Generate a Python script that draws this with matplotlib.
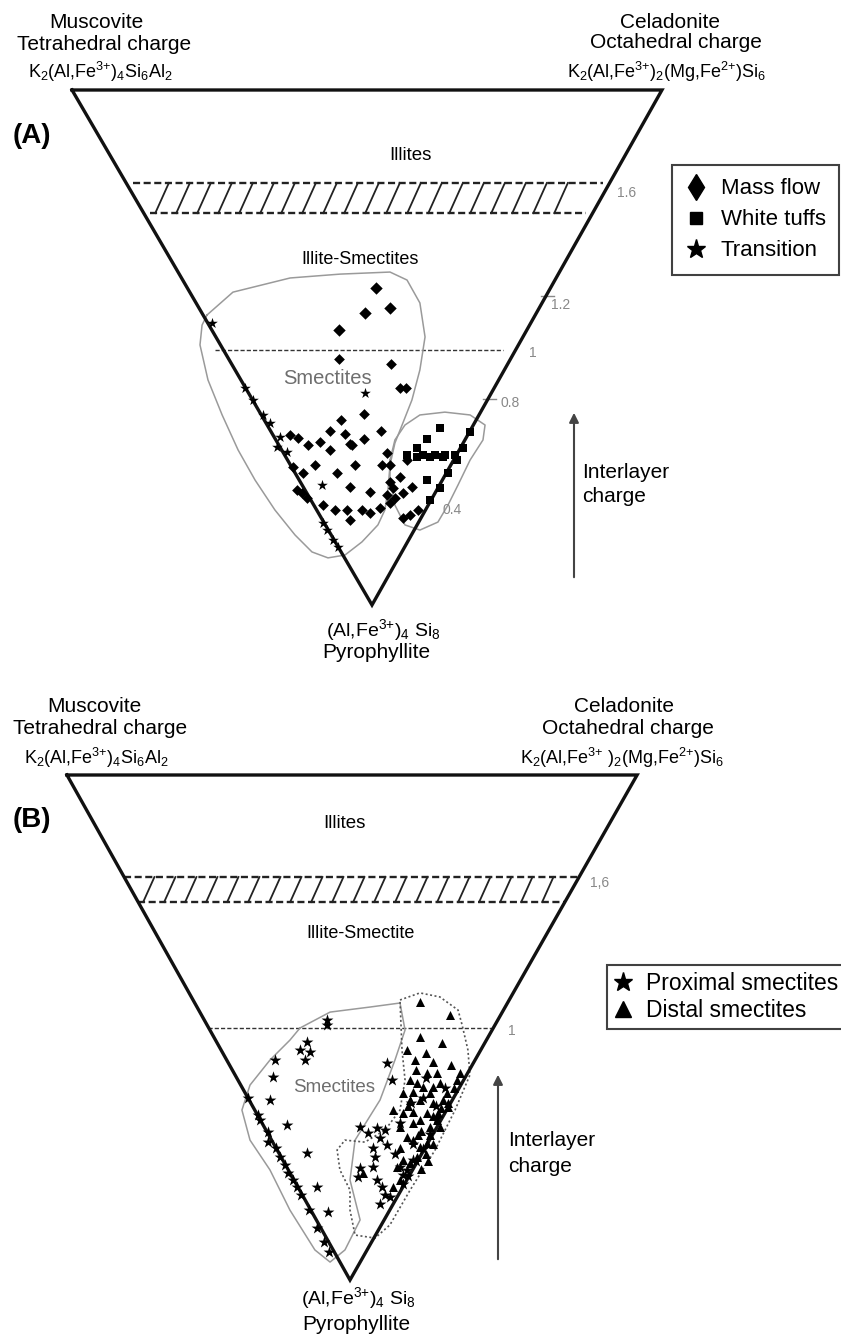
import numpy as np
import matplotlib.pyplot as plt
from matplotlib.lines import Line2D

plt.rcParams['font.family'] = ['Liberation Sans', 'DejaVu Sans']
plt.rcParams['mathtext.fontset'] = 'custom'
plt.rcParams['mathtext.rm'] = 'Liberation Sans'
plt.rcParams['mathtext.it'] = 'Liberation Sans:italic'
plt.rcParams['mathtext.bf'] = 'Liberation Sans:bold'
plt.rcParams['mathtext.default'] = 'regular'

W, H = 841, 1335

# ---- panel A data: x = horizontal offset from the pyrophyllite apex, c = interlayer charge
a_top_left, a_top_right = -1.165, 1.126

a_massflow_x = [0.016, 0.070, -0.027, -0.128]
a_massflow_c = [1.231, 1.153, 1.134, 1.068]

a_dots_x = [-0.128, 0.074, 0.109, 0.132, -0.031, -0.120, -0.163, -0.105, 0.035, -0.031,
            -0.085, -0.202, -0.249, -0.287, -0.318, -0.163, 0.058, -0.078, -0.307, -0.221,
            -0.268, -0.136, -0.066, 0.039, 0.070, 0.136, -0.085, -0.008, 0.070, 0.109,
            0.082, 0.058, 0.089, 0.120, 0.155, -0.291, -0.272, -0.252, -0.190, -0.144,
            -0.097, -0.039, -0.008, -0.085, 0.070, 0.031, 0.120, 0.148, 0.179]
a_dots_c = [0.955, 0.936, 0.843, 0.843, 0.742, 0.718, 0.676, 0.664, 0.676, 0.645,
            0.625, 0.633, 0.621, 0.648, 0.660, 0.602, 0.590, 0.621, 0.536, 0.544,
            0.513, 0.513, 0.544, 0.544, 0.544, 0.563, 0.458, 0.439, 0.478, 0.497,
            0.454, 0.427, 0.415, 0.435, 0.458, 0.447, 0.435, 0.415, 0.388, 0.369,
            0.369, 0.369, 0.357, 0.330, 0.396, 0.377, 0.338, 0.349, 0.369]

a_tuffs_x = [0.264, 0.214, 0.175, 0.136, 0.198, 0.245, 0.283, 0.322, 0.381, 0.175,
             0.225, 0.276, 0.214, 0.225, 0.264, 0.295, 0.330, 0.353]
a_tuffs_c = [0.687, 0.645, 0.610, 0.582, 0.582, 0.582, 0.582, 0.582, 0.672, 0.575,
             0.575, 0.575, 0.485, 0.408, 0.454, 0.513, 0.563, 0.610]

a_trans_x = [-0.621, -0.493, -0.462, -0.423, -0.396, -0.357, -0.369, -0.330, -0.194,
             -0.190, -0.175, -0.151, -0.132, -0.027]
a_trans_c = [1.095, 0.843, 0.796, 0.738, 0.707, 0.652, 0.614, 0.594, 0.466,
             0.318, 0.291, 0.252, 0.225, 0.823]

a_smectite_env_x = [-0.641, -0.540, -0.318, -0.124, 0.070, 0.136, 0.186, 0.206, 0.186, 0.155,
                    0.120, 0.089, 0.070, 0.062, 0.050, 0.023, -0.039, -0.105, -0.171, -0.233,
                    -0.299, -0.377, -0.454, -0.520, -0.582, -0.637, -0.668, -0.660, -0.641]
a_smectite_env_c = [1.126, 1.215, 1.270, 1.285, 1.293, 1.262, 1.173, 1.041, 0.913, 0.796,
                    0.707, 0.629, 0.544, 0.447, 0.369, 0.311, 0.245, 0.194, 0.183, 0.206,
                    0.272, 0.369, 0.485, 0.602, 0.738, 0.874, 1.010, 1.087, 1.126]

a_tuffs_env_x = [0.070, 0.089, 0.128, 0.186, 0.283, 0.381, 0.439, 0.431, 0.381, 0.334,
                 0.295, 0.256, 0.186, 0.128, 0.089, 0.070, 0.070]
a_tuffs_env_c = [0.563, 0.641, 0.699, 0.738, 0.749, 0.738, 0.699, 0.641, 0.563, 0.466,
                 0.388, 0.322, 0.291, 0.311, 0.388, 0.485, 0.563]

# ---- panel B data
b_top_left, b_top_right = -1.121, 1.137

b_prox_x = [-0.091, -0.091, -0.170, -0.198, -0.158, -0.178, -0.297, -0.305, -0.317, -0.404,
            -0.356, -0.249, -0.325, -0.277, -0.170, -0.246, -0.210, -0.131, -0.087, 0.147,
            0.166, 0.040, 0.071, 0.107, 0.139, 0.119, 0.091, 0.147, 0.099, 0.091,
            0.040, 0.032, 0.107, 0.127, 0.139, 0.198, 0.226, 0.210, 0.249, -0.364,
            -0.325, -0.293, -0.257, -0.226, -0.194, -0.162, -0.131, -0.103, -0.083,
            0.230, 0.262, 0.290, 0.318, 0.345, 0.250, 0.290, 0.180, 0.160, 0.210,
            0.300, 0.375, 0.340, 0.200, 0.240, 0.120]
b_prox_c = [1.030, 1.010, 0.943, 0.911, 0.903, 0.871, 0.871, 0.804, 0.713, 0.721,
            0.634, 0.614, 0.546, 0.487, 0.503, 0.424, 0.368, 0.368, 0.269, 0.859,
            0.792, 0.606, 0.582, 0.602, 0.594, 0.562, 0.523, 0.535, 0.487, 0.447,
            0.444, 0.408, 0.396, 0.368, 0.337, 0.447, 0.436, 0.416, 0.475, 0.653,
            0.586, 0.523, 0.455, 0.396, 0.337, 0.277, 0.206, 0.150, 0.111,
            0.410, 0.470, 0.520, 0.580, 0.640, 0.540, 0.720, 0.500, 0.330, 0.380,
            0.800, 0.760, 0.690, 0.620, 0.700, 0.300]

b_dist_x = [0.277, 0.396, 0.277, 0.364, 0.226, 0.257, 0.329, 0.305, 0.238, 0.265,
            0.289, 0.329, 0.356, 0.210, 0.249, 0.317, 0.384, 0.436, 0.424, 0.238,
            0.277, 0.329, 0.368, 0.388, 0.170, 0.210, 0.249, 0.305, 0.345, 0.277,
            0.198, 0.317, 0.356, 0.269, 0.317, 0.226, 0.249, 0.198, 0.277, 0.305,
            0.210, 0.186, 0.238, 0.265, 0.051, 0.198, 0.170,
            0.400, 0.410, 0.345, 0.300, 0.360, 0.330, 0.280, 0.250, 0.230, 0.260,
            0.300, 0.330, 0.350, 0.390, 0.310, 0.280]
b_dist_c = [1.101, 1.049, 0.962, 0.939, 0.911, 0.871, 0.863, 0.820, 0.792, 0.780,
            0.764, 0.764, 0.780, 0.741, 0.744, 0.741, 0.741, 0.820, 0.792, 0.713,
            0.713, 0.701, 0.713, 0.685, 0.673, 0.661, 0.665, 0.661, 0.634, 0.634,
            0.606, 0.606, 0.606, 0.574, 0.574, 0.566, 0.554, 0.523, 0.527, 0.543,
            0.475, 0.447, 0.463, 0.487, 0.424, 0.396, 0.368,
            0.850, 0.760, 0.820, 0.900, 0.680, 0.650, 0.590, 0.620, 0.690, 0.830,
            0.500, 0.540, 0.660, 0.700, 0.470, 0.440]

b_prox_env_x = [-0.198, -0.079, 0.079, 0.198, 0.218, 0.178, 0.119, 0.020, 0.000, 0.040,
                -0.020, -0.079, -0.139, -0.238, -0.317, -0.396, -0.428, -0.396, -0.317, -0.238,
                -0.198]
b_prox_env_c = [0.998, 1.061, 1.081, 1.097, 0.990, 0.871, 0.713, 0.554, 0.396, 0.238,
                0.119, 0.071, 0.119, 0.277, 0.436, 0.554, 0.673, 0.772, 0.871, 0.950,
                0.998]

b_dist_env_x = [0.198, 0.277, 0.356, 0.428, 0.444, 0.467, 0.475, 0.416, 0.337, 0.238,
                0.158, 0.099, 0.020, 0.000, 0.000, -0.040, -0.051, -0.020, 0.059, 0.139,
                0.198, 0.218, 0.206, 0.198]
b_dist_env_c = [1.109, 1.137, 1.121, 1.069, 1.010, 0.911, 0.812, 0.673, 0.515, 0.356,
                0.218, 0.166, 0.178, 0.277, 0.356, 0.436, 0.515, 0.554, 0.546, 0.594,
                0.673, 0.792, 0.911, 1.109]

FE3 = r'Fe$^{3{+}}$'
FE2 = r'Fe$^{2{+}}$'
MUSC_FORMULA = r'K$_2$(Al,' + FE3 + r')$_4$Si$_6$Al$_2$'
CELA_FORMULA = r'K$_2$(Al,' + FE3 + r')$_2$(Mg,' + FE2 + r')Si$_6$'
CELA_FORMULA_B = r'K$_2$(Al,' + FE3 + r' )$_2$(Mg,' + FE2 + r')Si$_6$'
PYRO_FORMULA = r'(Al,' + FE3 + r')$_4$ Si$_8$'


def fx(px):
    return px / W


def fy(py):
    return 1 - py / H


def setup_axes(fig, top_py, bottom_py, apex_px, apex_py, scale):
    ax = fig.add_axes([0, fy(bottom_py), 1, (bottom_py - top_py) / H])
    ax.set_xlim(-apex_px / scale, (W - apex_px) / scale)
    ax.set_ylim((apex_py - bottom_py) / scale, (apex_py - top_py) / scale)
    ax.axis('off')
    return ax


def edge_x(c, x_top):
    return x_top * c / 2.0


def draw_triangle(ax, x_left, x_right):
    ax.plot([x_left, x_right, 0, x_left], [2, 2, 0, 2], color='#111111', lw=2.4,
            solid_joinstyle='miter', zorder=3)


def draw_band(ax, x_left, x_right, c_lo, c_hi, scale, inset=0.0):
    xl_lo, xr_lo = edge_x(c_lo, x_left) + inset, edge_x(c_lo, x_right) - inset
    xl_hi, xr_hi = edge_x(c_hi, x_left) + inset, edge_x(c_hi, x_right) - inset
    ax.plot([xl_hi, xr_hi], [c_hi, c_hi], color='#222222', lw=1.7, ls=(0, (3, 1.5)))
    ax.plot([xl_lo, xr_lo], [c_lo, c_lo], color='#222222', lw=1.7, ls=(0, (3, 1.5)))
    lean = 0.45 * (c_hi - c_lo)
    step = 21 / scale
    for x0 in np.arange(xl_lo + 0.02, xr_lo - lean, step):
        ax.plot([x0, x0 + lean], [c_lo, c_hi], color='#222222', lw=1.3)


def label(px, py, s, size=15, **kw):
    fig.text(fx(px), fy(py), s, ha=kw.pop('ha', 'center'), va='center', fontsize=size, **kw)


fig = plt.figure(figsize=(W / 100, H / 100), dpi=100)

# ================= panel A =================
axa = setup_axes(fig, 0, 668, 372, 605, 257.5)
draw_triangle(axa, a_top_left, a_top_right)
draw_band(axa, a_top_left, a_top_right, 1.522, 1.639, 257.5, inset=0.025)
axa.plot([-0.61, 0.51], [0.99, 0.99], color='#333333', lw=1.0, ls=(0, (3, 1.5)))

axa.plot(a_smectite_env_x, a_smectite_env_c, color='#9a9a9a', lw=1.1)
axa.plot(a_tuffs_env_x, a_tuffs_env_c, color='#9a9a9a', lw=1.1)

axa.scatter(a_massflow_x, a_massflow_c, marker='D', s=40, color='black', lw=0, zorder=4)
axa.scatter(a_dots_x, a_dots_c, marker='D', s=30, color='black', lw=0, zorder=4)
axa.scatter(a_tuffs_x, a_tuffs_c, marker='s', s=32, color='black', lw=0, zorder=4)
axa.scatter(a_trans_x, a_trans_c, marker='*', s=65, color='black', lw=0, zorder=4)

for c in [1.2, 0.8]:
    xe = edge_x(c, a_top_right)
    axa.plot([xe - 0.02, xe + 0.03], [c, c], color='#888888', lw=1)

label(96, 22, 'Muscovite')
label(104, 44, 'Tetrahedral charge')
label(100, 72, MUSC_FORMULA, 13)
label(670, 22, 'Celadonite')
label(676, 43, 'Octahedral charge')
label(667, 72, CELA_FORMULA, 13)
label(32, 136, '(A)', 20, fontweight='bold')
label(410, 155, 'Illites', 13.5)
label(360, 260, 'Illite-Smectites', 13)
label(327, 378, 'Smectites', 14.5, color='#6e6e6e')
label(627, 193, '1.6', 10, color='#888888')
label(561, 305, '1.2', 10, color='#888888')
label(533, 353, '1', 10, color='#888888')
label(510, 403, '0.8', 10, color='#888888')
label(452, 510, '0.4', 10, color='#888888')
label(582, 472, 'Interlayer', 15, ha='left')
label(582, 497, 'charge', 15, ha='left')
label(383, 630, PYRO_FORMULA, 14)
label(376, 653, 'Pyrophyllite')

axa.annotate('', xy=((574 - 372) / 257.5, (605 - 410) / 257.5),
             xytext=((574 - 372) / 257.5, (605 - 580) / 257.5),
             arrowprops=dict(arrowstyle='-|>', color='#444444', lw=1.5, mutation_scale=14))

leg_a = [Line2D([], [], marker='d', ls='', color='black', ms=13, label='Mass flow'),
         Line2D([], [], marker='s', ls='', color='black', ms=8, label='White tuffs'),
         Line2D([], [], marker='*', ls='', color='black', ms=14, label='Transition')]
la = fig.legend(handles=leg_a, loc='upper left', bbox_to_anchor=(fx(672), fy(165)),
                frameon=True, fancybox=False, fontsize=16, handlelength=1.0,
                handletextpad=0.6, labelspacing=0.45, borderpad=0.6, borderaxespad=0)
la.get_frame().set_edgecolor('#111111')
la.get_frame().set_linewidth(1.5)

# ================= panel B =================
axb = setup_axes(fig, 668, H, 350, 1280, 252.5)
draw_triangle(axb, b_top_left, b_top_right)
draw_band(axb, b_top_left, b_top_right, 1.497, 1.596, 252.5)
axb.plot([edge_x(1.0, b_top_left), edge_x(1.0, b_top_right)], [1.0, 1.0], color='#333333',
         lw=1.0, ls=(0, (3, 1.5)))

axb.plot(b_prox_env_x, b_prox_env_c, color='#9a9a9a', lw=1.1)
axb.plot(b_dist_env_x, b_dist_env_c, color='#555555', lw=1.2, ls=(0, (1.2, 1.5)))

axb.scatter(b_prox_x, b_prox_c, marker='*', s=80, color='black', lw=0, zorder=4)
axb.scatter(b_dist_x, b_dist_c, marker='^', s=42, color='black', lw=0, zorder=4)

label(94, 707, 'Muscovite')
label(100, 728, 'Tetrahedral charge')
label(96, 758, MUSC_FORMULA, 13)
label(624, 707, 'Celadonite')
label(628, 728, 'Octahedral charge')
label(622, 758, CELA_FORMULA_B, 13)
label(32, 820, '(B)', 20, fontweight='bold')
label(344, 823, 'Illites', 13.5)
label(361, 933, 'Illite-Smectite', 13)
label(334, 1088, 'Smectites', 13.5, color='#6e6e6e')
label(600, 883, '1,6', 10, color='#888888')
label(512, 1031, '1', 10, color='#888888')
label(508, 1140, 'Interlayer', 15, ha='left')
label(508, 1166, 'charge', 15, ha='left')
label(358, 1298, PYRO_FORMULA, 14)
label(356, 1324, 'Pyrophyllite')

axb.annotate('', xy=((498 - 350) / 252.5, (1280 - 1072) / 252.5),
             xytext=((498 - 350) / 252.5, (1280 - 1262) / 252.5),
             arrowprops=dict(arrowstyle='-|>', color='#444444', lw=1.5, mutation_scale=14))

leg_b = [Line2D([], [], marker='*', ls='', color='black', ms=14, label='Proximal smectites'),
         Line2D([], [], marker='^', ls='', color='black', ms=11, label='Distal smectites')]
lb = fig.legend(handles=leg_b, loc='upper left', bbox_to_anchor=(fx(607), fy(965)),
                frameon=True, fancybox=False, fontsize=16.5, handlelength=0.8,
                handletextpad=0.6, labelspacing=0.2, borderpad=0.3, borderaxespad=0)
lb.get_frame().set_edgecolor('#111111')
lb.get_frame().set_linewidth(1.5)

fig.savefig('out.png', dpi=100, facecolor='white')
